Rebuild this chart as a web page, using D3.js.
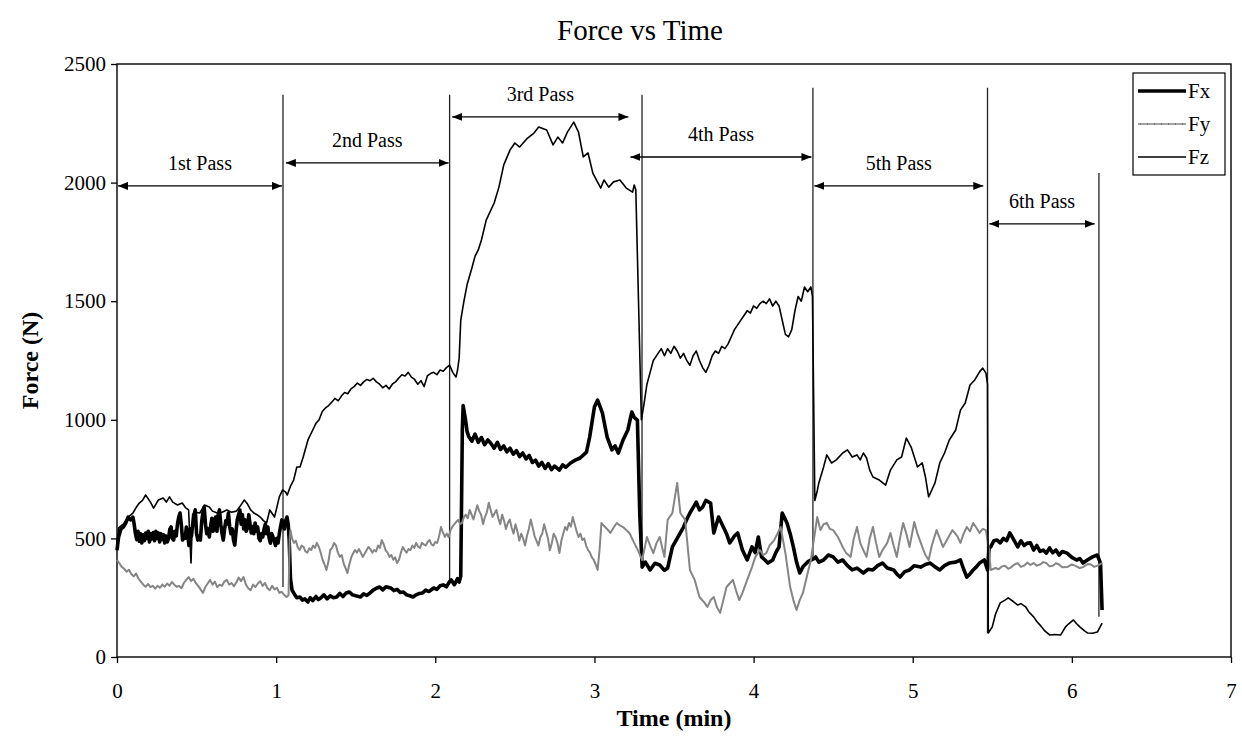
<!DOCTYPE html>
<html>
<head>
<meta charset="utf-8">
<script src="https://cdn.jsdelivr.net/npm/d3@7"></script>
<style>
  body { margin: 0; background: #fff; }
  svg { display: block; }
  text { font-family: "Liberation Serif", "Times New Roman", serif; fill: #000; }
</style>
</head>
<body>
<svg id="chart" width="1242" height="736"></svg>
<script>
// Axis ticks
const xTicks = [0, 1, 2, 3, 4, 5, 6, 7];
const yTicks = [0, 500, 1000, 1500, 2000, 2500];

// Force components, [time (min), force (N)]
const fxData = [
  [0.00,450],[0.01,506],[0.025,540],[0.04,548],[0.055,565],[0.07,590],[0.085,578],[0.100,590],[0.108,560],[0.116,520],
  [0.124,495],[0.132,530],[0.140,488],[0.148,520],[0.156,481],[0.164,515],[0.172,490],[0.180,523],[0.188,500],[0.196,530],
  [0.204,485],[0.212,520],[0.220,498],[0.228,525],[0.236,490],[0.244,530],[0.252,500],[0.260,523],[0.268,485],[0.276,520],
  [0.284,495],[0.292,515],[0.300,481],[0.308,510],[0.316,485],[0.324,500],[0.332,540],[0.340,548],[0.348,500],[0.356,493],
  [0.364,530],[0.372,510],[0.380,560],[0.388,590],[0.396,607],[0.404,560],[0.412,493],[0.420,515],[0.428,500],[0.436,548],
  [0.444,520],[0.452,470],[0.460,540],[0.468,510],[0.476,560],[0.484,600],[0.492,620],[0.500,520],[0.508,493],[0.516,510],
  [0.524,493],[0.532,570],[0.540,610],[0.548,632],[0.556,560],[0.564,520],[0.572,540],[0.580,506],[0.588,550],[0.596,585],
  [0.604,530],[0.612,570],[0.620,590],[0.628,530],[0.636,600],[0.644,620],[0.652,560],[0.660,520],[0.668,493],[0.676,540],
  [0.684,575],[0.692,560],[0.700,607],[0.708,550],[0.716,520],[0.724,540],[0.732,493],[0.740,472],[0.748,530],[0.756,580],
  [0.764,600],[0.772,620],[0.780,560],[0.788,600],[0.796,540],[0.804,578],[0.812,530],[0.820,545],[0.828,600],[0.836,560],
  [0.844,523],[0.852,550],[0.860,520],[0.868,565],[0.876,530],[0.884,548],[0.892,500],[0.900,490],[0.908,520],[0.916,506],
  [0.924,540],[0.932,560],[0.940,520],[0.948,548],[0.956,500],[0.964,480],[0.972,520],[0.980,506],[0.988,490],[0.996,470],
  [1.004,500],[1.012,481],[1.020,520],[1.028,550],[1.036,578],[1.044,560],[1.052,540],[1.060,575],[1.068,590],[1.076,560],
  [1.082,493],[1.09,330],[1.10,282],[1.115,265],[1.13,250],[1.15,253],[1.165,240],[1.18,245],[1.20,232],[1.215,250],
  [1.23,238],[1.25,255],[1.265,242],[1.28,249],[1.30,262],[1.32,245],[1.34,258],[1.36,250],[1.38,253],[1.40,268],
  [1.42,255],[1.44,270],[1.46,274],[1.48,262],[1.50,258],[1.53,253],[1.55,266],[1.57,260],[1.59,270],[1.61,282],
  [1.63,290],[1.65,295],[1.67,283],[1.69,296],[1.72,291],[1.74,280],[1.76,285],[1.78,272],[1.80,274],[1.82,262],
  [1.84,258],[1.86,253],[1.88,262],[1.90,268],[1.92,270],[1.94,282],[1.96,276],[1.99,291],[2.01,285],[2.03,300],
  [2.05,304],[2.07,296],[2.09,318],[2.10,325],[2.12,305],[2.14,330],[2.15,316],[2.16,340],[2.17,960],[2.175,1060],
  [2.19,1000],[2.20,950],[2.21,930],[2.23,910],[2.25,940],[2.27,905],[2.29,925],[2.31,895],[2.33,915],[2.35,900],
  [2.37,880],[2.39,905],[2.41,875],[2.43,890],[2.45,865],[2.47,880],[2.49,855],[2.51,870],[2.53,845],[2.55,860],
  [2.57,835],[2.59,850],[2.61,820],[2.63,830],[2.65,805],[2.67,820],[2.69,795],[2.71,815],[2.73,790],[2.75,805],
  [2.78,788],[2.80,810],[2.82,800],[2.85,818],[2.88,830],[2.91,839],[2.95,864],[2.97,927],[3.00,1054],[3.02,1083],
  [3.05,1029],[3.08,927],[3.11,873],[3.13,890],[3.15,860],[3.18,915],[3.21,957],[3.235,1033],[3.25,1010],[3.27,999],
  [3.285,600],[3.30,379],[3.32,400],[3.35,367],[3.38,395],[3.41,388],[3.44,365],[3.46,375],[3.49,464],[3.52,500],
  [3.56,548],[3.58,580],[3.60,607],[3.62,630],[3.64,653],[3.66,620],[3.68,632],[3.70,660],[3.73,649],[3.75,523],
  [3.78,590],[3.81,548],[3.83,520],[3.85,481],[3.88,510],[3.90,523],[3.93,451],[3.96,409],[3.99,464],[4.01,440],
  [4.03,506],[4.05,422],[4.07,410],[4.09,396],[4.12,409],[4.14,440],[4.16,464],[4.18,607],[4.21,565],[4.23,520],
  [4.25,464],[4.27,400],[4.29,354],[4.31,380],[4.34,401],[4.36,409],[4.38,415],[4.39,422],[4.41,400],[4.44,409],
  [4.47,430],[4.50,422],[4.53,400],[4.56,409],[4.59,385],[4.62,367],[4.65,375],[4.69,354],[4.72,370],[4.75,367],
  [4.78,385],[4.81,396],[4.84,375],[4.88,367],[4.90,350],[4.92,337],[4.95,360],[4.98,367],[5.01,385],[5.05,379],
  [5.08,390],[5.11,396],[5.14,380],[5.17,367],[5.20,385],[5.23,396],[5.27,400],[5.30,409],[5.32,370],[5.34,337],
  [5.36,350],[5.38,367],[5.40,380],[5.42,396],[5.45,409],[5.47,367],[5.48,460],[5.49,464],[5.51,490],[5.53,493],
  [5.55,481],[5.57,500],[5.59,490],[5.61,523],[5.63,500],[5.66,464],[5.68,490],[5.70,470],[5.72,480],[5.74,481],
  [5.76,451],[5.78,470],[5.80,445],[5.82,451],[5.84,438],[5.86,460],[5.88,440],[5.90,451],[5.92,430],[5.94,445],
  [5.97,438],[6.00,420],[6.03,409],[6.05,415],[6.07,396],[6.10,410],[6.13,422],[6.16,430],[6.18,396],[6.19,198]
];

const fyData = [
  [0.000,409],[0.015,395],[0.030,380],[0.045,372],[0.060,360],[0.075,368],[0.090,350],[0.105,340],[0.120,352],[0.135,330],
  [0.150,318],[0.165,305],[0.180,296],[0.195,308],[0.210,295],[0.225,300],[0.240,288],[0.255,300],[0.270,292],[0.285,305],
  [0.300,296],[0.315,310],[0.330,300],[0.345,316],[0.360,305],[0.375,296],[0.390,300],[0.405,290],[0.420,312],[0.435,325],
  [0.450,337],[0.465,320],[0.480,330],[0.495,312],[0.510,300],[0.525,285],[0.540,270],[0.555,295],[0.570,310],[0.585,325],
  [0.600,305],[0.615,318],[0.630,295],[0.645,305],[0.660,300],[0.675,318],[0.690,325],[0.705,305],[0.720,312],[0.735,298],
  [0.750,315],[0.765,335],[0.780,320],[0.795,337],[0.810,305],[0.825,290],[0.840,282],[0.855,305],[0.870,295],[0.885,310],
  [0.900,320],[0.915,300],[0.930,312],[0.945,290],[0.960,282],[0.975,300],[0.990,285],[1.005,292],[1.020,270],[1.035,275],
  [1.050,262],[1.065,253],[1.078,260],[1.085,500],[1.090,535],[1.100,500],[1.112,481],[1.124,490],[1.136,462],[1.148,451],
  [1.160,470],[1.172,464],[1.184,445],[1.196,440],[1.208,458],[1.220,451],[1.232,470],[1.244,460],[1.256,481],[1.268,465],
  [1.280,440],[1.292,409],[1.304,390],[1.316,367],[1.328,400],[1.340,451],[1.352,460],[1.364,481],[1.376,470],[1.388,440],
  [1.400,422],[1.412,430],[1.424,395],[1.436,375],[1.448,354],[1.460,390],[1.472,420],[1.484,438],[1.496,451],[1.508,440],
  [1.520,455],[1.532,440],[1.544,422],[1.556,435],[1.568,450],[1.580,464],[1.592,455],[1.604,440],[1.616,451],[1.628,445],
  [1.640,470],[1.652,460],[1.664,493],[1.676,475],[1.688,450],[1.700,440],[1.712,422],[1.724,430],[1.736,410],[1.748,420],
  [1.760,396],[1.772,410],[1.784,440],[1.796,464],[1.808,450],[1.820,440],[1.832,455],[1.844,451],[1.856,470],[1.868,460],
  [1.880,481],[1.892,465],[1.904,460],[1.916,481],[1.928,475],[1.940,470],[1.952,485],[1.964,493],[1.976,475],[1.988,470],
  [2.000,485],[2.012,481],[2.024,510],[2.036,548],[2.048,525],[2.060,506],[2.072,520],[2.084,505],[2.096,535],[2.108,550],
  [2.120,560],[2.132,570],[2.144,578],[2.156,560],[2.168,565],[2.180,590],[2.192,600],[2.204,585],[2.216,620],[2.228,600],
  [2.240,580],[2.252,610],[2.264,640],[2.276,615],[2.288,600],[2.300,560],[2.312,590],[2.324,610],[2.336,650],[2.348,620],
  [2.360,590],[2.372,605],[2.384,620],[2.396,585],[2.408,560],[2.420,600],[2.432,575],[2.444,540],[2.456,565],[2.468,580],
  [2.480,545],[2.492,520],[2.504,560],[2.516,530],[2.528,490],[2.540,520],[2.552,500],[2.564,470],[2.576,510],[2.588,540],
  [2.600,580],[2.612,545],[2.624,510],[2.636,490],[2.648,470],[2.660,505],[2.672,520],[2.684,560],[2.696,530],[2.708,500],
  [2.720,450],[2.732,480],[2.744,520],[2.756,505],[2.768,480],[2.780,438],[2.792,490],[2.804,520],[2.816,548],[2.828,535],
  [2.840,565],[2.852,550],[2.864,590],[2.876,560],[2.888,530],[2.900,506],[2.912,520],[2.924,493],[2.936,500],[2.948,470],
  [2.960,451],[2.972,440],[2.984,420],[2.996,409],[3.008,390],[3.020,367],[3.032,450],[3.044,565],[3.056,555],[3.08,540],
  [3.10,523],[3.12,545],[3.14,565],[3.16,555],[3.18,548],[3.20,535],[3.22,523],[3.25,481],[3.28,440],[3.30,409],
  [3.33,506],[3.35,470],[3.37,438],[3.39,480],[3.41,506],[3.44,422],[3.46,578],[3.49,607],[3.50,650],[3.52,734],
  [3.54,607],[3.57,578],[3.60,367],[3.63,325],[3.66,253],[3.69,230],[3.71,211],[3.73,240],[3.75,253],[3.77,210],
  [3.79,186],[3.81,240],[3.83,295],[3.85,310],[3.87,325],[3.89,280],[3.91,240],[3.93,270],[3.96,325],[3.99,379],
  [4.01,420],[4.04,451],[4.06,430],[4.08,438],[4.10,470],[4.13,493],[4.15,520],[4.17,548],[4.20,438],[4.23,295],
  [4.25,240],[4.27,198],[4.29,240],[4.31,270],[4.34,354],[4.36,409],[4.38,500],[4.40,590],[4.42,535],[4.44,560],
  [4.46,565],[4.48,540],[4.50,535],[4.53,506],[4.56,464],[4.58,440],[4.61,422],[4.63,500],[4.65,548],[4.67,481],
  [4.69,450],[4.71,422],[4.73,500],[4.75,548],[4.77,480],[4.79,422],[4.81,450],[4.84,481],[4.86,523],[4.88,470],
  [4.90,422],[4.92,500],[4.94,565],[4.96,520],[4.98,464],[5.01,569],[5.03,520],[5.06,464],[5.08,430],[5.10,409],
  [5.12,470],[5.15,535],[5.17,500],[5.19,464],[5.22,500],[5.25,535],[5.28,510],[5.30,481],[5.32,520],[5.34,548],
  [5.36,530],[5.38,565],[5.40,545],[5.42,523],[5.44,540],[5.46,535],[5.48,450],[5.49,367],[5.52,375],[5.54,370],
  [5.56,382],[5.58,385],[5.60,372],[5.62,379],[5.64,390],[5.66,396],[5.68,380],[5.70,385],[5.72,398],[5.74,388],
  [5.76,396],[5.78,385],[5.80,390],[5.82,400],[5.84,396],[5.86,382],[5.88,385],[5.90,395],[5.92,390],[5.94,378],
  [5.97,379],[6.00,390],[6.02,385],[6.05,375],[6.07,379],[6.10,392],[6.12,390],[6.14,380],[6.16,385],[6.19,396]
];

const fzData = [
  [0.00,450],[0.01,544],[0.04,560],[0.07,590],[0.10,607],[0.12,630],[0.14,649],[0.16,660],[0.18,683],[0.21,653],
  [0.23,628],[0.26,662],[0.29,670],[0.31,653],[0.33,675],[0.35,653],[0.38,641],[0.41,649],[0.43,630],[0.45,620],
  [0.465,396],[0.475,600],[0.49,610],[0.52,607],[0.55,641],[0.58,632],[0.60,615],[0.63,607],[0.66,610],[0.69,620],
  [0.72,610],[0.75,615],[0.77,632],[0.80,662],[0.82,645],[0.84,620],[0.86,607],[0.88,600],[0.90,590],[0.92,575],
  [0.94,565],[0.96,620],[0.99,590],[1.02,675],[1.04,704],[1.06,695],[1.07,683],[1.09,720],[1.11,746],[1.13,801],
  [1.15,801],[1.17,843],[1.20,915],[1.23,957],[1.25,985],[1.27,1000],[1.29,1035],[1.31,1050],[1.33,1060],[1.35,1075],
  [1.37,1090],[1.39,1080],[1.41,1100],[1.43,1115],[1.45,1110],[1.47,1130],[1.49,1140],[1.51,1155],[1.53,1145],[1.55,1160],
  [1.57,1170],[1.59,1165],[1.61,1175],[1.63,1160],[1.65,1150],[1.67,1135],[1.69,1145],[1.71,1130],[1.73,1150],[1.75,1160],
  [1.77,1175],[1.79,1190],[1.81,1185],[1.83,1200],[1.85,1180],[1.87,1170],[1.89,1150],[1.91,1165],[1.93,1140],[1.95,1185],
  [1.97,1195],[1.99,1200],[2.01,1190],[2.03,1210],[2.05,1205],[2.07,1220],[2.09,1230],[2.11,1200],[2.13,1180],[2.14,1210],
  [2.15,1260],[2.16,1420],[2.18,1500],[2.20,1570],[2.23,1640],[2.25,1690],[2.27,1716],[2.29,1758],[2.32,1842],[2.37,1914],
  [2.40,1981],[2.43,2074],[2.47,2138],[2.50,2167],[2.53,2150],[2.58,2188],[2.62,2209],[2.65,2234],[2.70,2222],[2.74,2159],
  [2.77,2192],[2.80,2167],[2.83,2213],[2.87,2255],[2.90,2213],[2.93,2108],[2.96,2125],[2.99,2040],[3.04,1977],[3.06,2011],
  [3.09,1981],[3.12,2003],[3.16,2011],[3.20,1977],[3.24,1960],[3.25,1990],[3.26,1970],[3.295,1000],[3.31,1060],[3.33,1150],
  [3.35,1200],[3.37,1250],[3.40,1280],[3.42,1300],[3.44,1270],[3.46,1300],[3.48,1280],[3.50,1310],[3.52,1290],[3.54,1260],
  [3.56,1280],[3.58,1250],[3.60,1230],[3.62,1270],[3.64,1290],[3.66,1250],[3.68,1220],[3.70,1200],[3.72,1230],[3.74,1270],
  [3.76,1290],[3.78,1280],[3.80,1310],[3.82,1300],[3.84,1320],[3.86,1350],[3.88,1380],[3.90,1400],[3.92,1420],[3.94,1440],
  [3.96,1460],[3.98,1450],[4.00,1480],[4.02,1470],[4.04,1490],[4.06,1500],[4.08,1490],[4.10,1510],[4.12,1480],[4.14,1500],
  [4.16,1480],[4.18,1420],[4.20,1360],[4.22,1350],[4.24,1380],[4.26,1460],[4.28,1520],[4.30,1500],[4.32,1560],[4.34,1540],
  [4.36,1560],[4.37,1520],[4.385,660],[4.40,700],[4.41,734],[4.44,801],[4.46,852],[4.49,818],[4.52,831],[4.56,860],
  [4.59,873],[4.62,843],[4.65,852],[4.67,831],[4.69,860],[4.71,839],[4.73,788],[4.75,759],[4.79,746],[4.83,725],
  [4.86,788],[4.90,831],[4.93,843],[4.96,923],[4.99,885],[5.03,801],[5.06,818],[5.08,759],[5.10,675],[5.12,704],
  [5.14,734],[5.17,818],[5.20,860],[5.23,915],[5.27,957],[5.30,1041],[5.33,1071],[5.36,1147],[5.39,1168],[5.42,1202],
  [5.44,1218],[5.46,1197],[5.47,1150],[5.475,101],[5.50,127],[5.52,180],[5.55,228],[5.58,240],[5.60,249],[5.63,235],
  [5.66,219],[5.68,225],[5.71,211],[5.73,190],[5.76,169],[5.78,150],[5.81,127],[5.83,110],[5.86,93],[5.89,95],
  [5.93,93],[5.96,127],[5.98,140],[6.01,156],[6.03,140],[6.05,127],[6.08,110],[6.10,101],[6.13,100],[6.16,105],
  [6.19,143]
];

// Pass annotations
const passLabels = ["1st Pass", "2nd Pass", "3rd Pass", "4th Pass", "5th Pass", "6th Pass"];
const passStart  = [0.00, 1.055, 2.10, 3.22, 4.375, 5.475];
const passEnd    = [1.043, 2.09, 3.22, 4.37, 5.45, 6.15];
const passArrowY = [1986, 2083, 2277, 2108, 1986, 1826];

// Vertical separators between passes
const dividerT      = [1.043, 2.09, 3.299, 4.373, 5.47, 6.17];
const dividerTop    = [2370, 2370, 2370, 2400, 2400, 2040];
const dividerBottom = [295, 325, 380, 410, 100, 170];

const series = [
  { name: "Fx", data: fxData, color: "#000", width: 3.6 },
  { name: "Fy", data: fyData, color: "#858585", width: 2 },
  { name: "Fz", data: fzData, color: "#000", width: 1.6 }
];

const W = 1242, H = 736;
const margin = { top: 64, right: 11, bottom: 79, left: 117 };
const svg = d3.select("#chart");

const x = d3.scaleLinear().domain([0, 7]).range([margin.left, W - margin.right]);
const y = d3.scaleLinear().domain([0, 2500]).range([H - margin.bottom, margin.top]);

// Arrow heads
const defs = svg.append("defs");
defs.append("marker")
  .attr("id", "headEnd").attr("viewBox", "0 0 10 8").attr("refX", 10).attr("refY", 4)
  .attr("markerWidth", 10).attr("markerHeight", 8).attr("markerUnits", "userSpaceOnUse")
  .attr("orient", "auto")
  .append("path").attr("d", "M0,0 L10,4 L0,8 Z").attr("fill", "#000");
defs.append("marker")
  .attr("id", "headStart").attr("viewBox", "0 0 10 8").attr("refX", 0).attr("refY", 4)
  .attr("markerWidth", 10).attr("markerHeight", 8).attr("markerUnits", "userSpaceOnUse")
  .attr("orient", "auto")
  .append("path").attr("d", "M10,0 L0,4 L10,8 Z").attr("fill", "#000");

// Title
svg.append("text")
  .attr("x", 640).attr("y", 40)
  .attr("text-anchor", "middle")
  .style("font-size", "29px")
  .text("Force vs Time");

// Axes
const xAxis = svg.append("g")
  .attr("transform", `translate(0,${y(0)})`)
  .call(d3.axisBottom(x).tickValues(xTicks).tickFormat(d3.format("d")).tickSize(6).tickPadding(20));
const yAxis = svg.append("g")
  .attr("transform", `translate(${x(0)},0)`)
  .call(d3.axisLeft(y).tickValues(yTicks).tickFormat(d3.format("d")).tickSize(6).tickPadding(5));
[xAxis, yAxis].forEach(g => {
  g.select(".domain").remove();
  g.selectAll(".tick line").attr("stroke", "#000").attr("stroke-width", 1.3);
  g.selectAll(".tick text")
    .style("font-family", "'Liberation Serif', 'Times New Roman', serif")
    .style("font-size", "21px").attr("fill", "#000");
});

// Plot frame
svg.append("rect")
  .attr("x", x(0)).attr("y", y(2500))
  .attr("width", x(7) - x(0)).attr("height", y(0) - y(2500))
  .attr("fill", "none").attr("stroke", "#000").attr("stroke-width", 1.4);

// Axis titles
svg.append("text")
  .attr("x", (x(0) + x(7)) / 2).attr("y", 726)
  .attr("text-anchor", "middle")
  .style("font-size", "24px").style("font-weight", "bold")
  .text("Time (min)");
svg.append("text")
  .attr("transform", `translate(38,${(y(0) + y(2500)) / 2}) rotate(-90)`)
  .attr("text-anchor", "middle")
  .style("font-size", "24px").style("font-weight", "bold")
  .text("Force (N)");

// Pass separators
svg.append("g").selectAll("line")
  .data(dividerT)
  .join("line")
  .attr("x1", d => x(d)).attr("x2", d => x(d))
  .attr("y1", (d, i) => y(dividerTop[i]))
  .attr("y2", (d, i) => y(dividerBottom[i]))
  .attr("stroke", "#222").attr("stroke-width", 1.3);

// Force traces
const line = d3.line().x(d => x(d[0])).y(d => y(d[1]));
svg.append("g").selectAll("path")
  .data(series)
  .join("path")
  .attr("d", d => line(d.data))
  .attr("fill", "none")
  .attr("stroke", d => d.color)
  .attr("stroke-width", d => d.width)
  .attr("stroke-linejoin", "round");

// Pass arrows and labels
const passes = passLabels.map((label, i) => ({ label, t0: passStart[i], t1: passEnd[i], f: passArrowY[i] }));
const pg = svg.append("g");
pg.selectAll("line")
  .data(passes)
  .join("line")
  .attr("x1", d => x(d.t0) + 1).attr("x2", d => x(d.t1) - 1)
  .attr("y1", d => y(d.f)).attr("y2", d => y(d.f))
  .attr("stroke", "#000").attr("stroke-width", 1.4)
  .attr("marker-start", "url(#headStart)")
  .attr("marker-end", "url(#headEnd)");
pg.selectAll("text")
  .data(passes)
  .join("text")
  .attr("x", d => (x(d.t0) + x(d.t1)) / 2)
  .attr("y", d => y(d.f) - 16)
  .attr("text-anchor", "middle")
  .style("font-size", "20px")
  .text(d => d.label);

// Legend
const lg = svg.append("g");
lg.append("rect")
  .attr("x", 1133).attr("y", 73).attr("width", 92).attr("height", 102)
  .attr("fill", "#fff").attr("stroke", "#000").attr("stroke-width", 1.2);
series.forEach((s, i) => {
  const yy = 91 + i * 33;
  lg.append("line")
    .attr("x1", 1138).attr("x2", 1186).attr("y1", yy).attr("y2", yy)
    .attr("stroke", s.color).attr("stroke-width", s.name === "Fy" ? 1.4 : s.width);
  if (s.name === "Fy") {
    lg.append("line")
      .attr("x1", 1140).attr("x2", 1186).attr("y1", yy).attr("y2", yy)
      .attr("stroke", "#444").attr("stroke-width", 1).attr("stroke-dasharray", "1,6");
  }
  lg.append("text")
    .attr("x", 1188).attr("y", yy + 7)
    .style("font-size", "21px")
    .text(s.name);
});
</script>
</body>
</html>
